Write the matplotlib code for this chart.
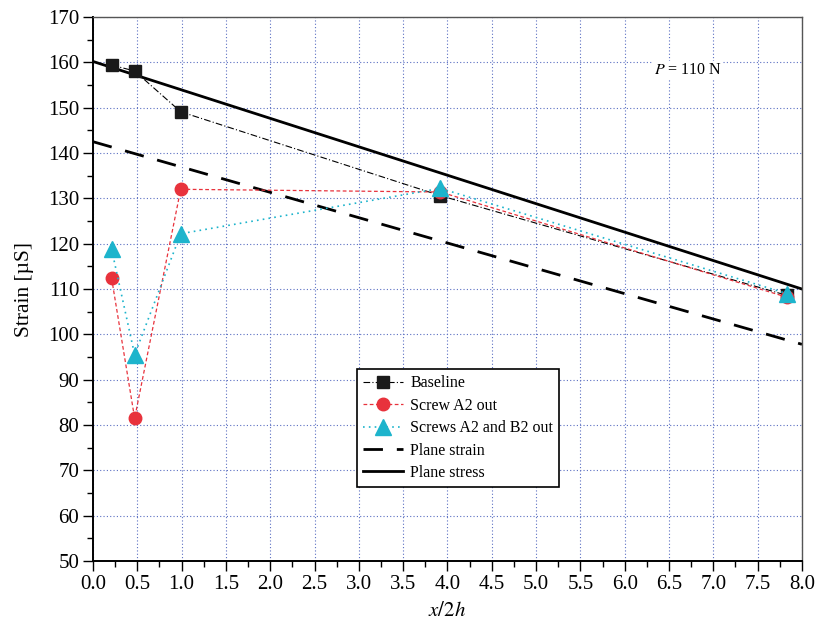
import numpy as np
import matplotlib.pyplot as plt
from matplotlib.ticker import MultipleLocator

plt.rcParams['font.family'] = ['Liberation Serif', 'DejaVu Serif']
plt.rcParams['mathtext.fontset'] = 'stix'

# measured points
x_pts = [0.21, 0.47, 0.99, 3.92, 7.83]
baseline = [159.4, 158.1, 149.1, 130.6, 108.6]
screw_a2 = [112.4, 81.5, 132.0, 131.4, 108.2]
screws_a2b2 = [118.8, 95.5, 122.2, 132.2, 109.0]

# theory lines
x_line = [0.0, 8.0]
plane_strain = [142.5, 97.8]
plane_stress = [160.2, 110.0]

red = "#e8323c"
cyan = "#1db4cc"

fig = plt.figure(figsize=(8.17, 6.26), dpi=100)
ax = fig.add_axes([0.1138, 0.1038, 0.8678, 0.869])

ax.plot(x_pts, baseline, color="black", linestyle=(0, (6, 2, 1, 2)), linewidth=0.8,
        marker="s", markersize=9, markerfacecolor="#1a1a1a", markeredgecolor="#1a1a1a",
        label="Baseline", zorder=3)
ax.plot(x_pts, screw_a2, color=red, linestyle=(0, (3, 2)), linewidth=0.9,
        marker="o", markersize=9, markerfacecolor=red, markeredgecolor=red,
        label="Screw A2 out", zorder=4)
ax.plot(x_pts, screws_a2b2, color=cyan, linestyle=(0, (1, 2.5)), linewidth=1.2,
        marker="^", markersize=11, markerfacecolor=cyan, markeredgecolor=cyan,
        label="Screws A2 and B2 out", zorder=5)
ax.plot(x_line, plane_strain, color="black", linestyle=(0, (7, 5)), linewidth=2.0,
        label="Plane strain", zorder=2)
ax.plot(x_line, plane_stress, color="black", linestyle="-", linewidth=2.0,
        label="Plane stress", zorder=2)

ax.set_xlim(0, 8)
ax.set_ylim(50, 170)
ax.xaxis.set_major_locator(MultipleLocator(0.5))
ax.xaxis.set_minor_locator(MultipleLocator(0.25))
ax.yaxis.set_major_locator(MultipleLocator(10))
ax.yaxis.set_minor_locator(MultipleLocator(5))
ax.xaxis.set_major_formatter(plt.FuncFormatter(lambda v, p: f"{v:.1f}"))

ax.tick_params(which="major", direction="out", length=7, width=1, labelsize=15, pad=3)
ax.tick_params(which="minor", direction="out", length=4, width=1)

ax.grid(which="major", color="#5b6fc2", linestyle=(0, (1, 2)), linewidth=0.8)

for s in ["left", "bottom"]:
    ax.spines[s].set_linewidth(1.4)
    ax.spines[s].set_color("black")
for s in ["top", "right"]:
    ax.spines[s].set_linewidth(1.0)
    ax.spines[s].set_color("#555555")

ax.set_xlabel("$\\it{x/2h}$", fontsize=15, labelpad=6)
ax.set_ylabel("Strain [µS]", fontsize=15.5, labelpad=10)

ax.text(6.33, 158.3, "$\\it{P}$ = 110 N", fontsize=11.5, ha="left", va="center",
        bbox=dict(facecolor="white", edgecolor="none", pad=1))

leg = ax.legend(loc="upper left", bbox_to_anchor=(0.372, 0.353), fontsize=11.5,
                frameon=True, fancybox=False, edgecolor="black", framealpha=1,
                borderaxespad=0, handlelength=2.5, borderpad=0.4,
                labelspacing=0.4, handletextpad=0.45)
leg.get_frame().set_linewidth(1.2)

fig.savefig("out.png", dpi=100)
